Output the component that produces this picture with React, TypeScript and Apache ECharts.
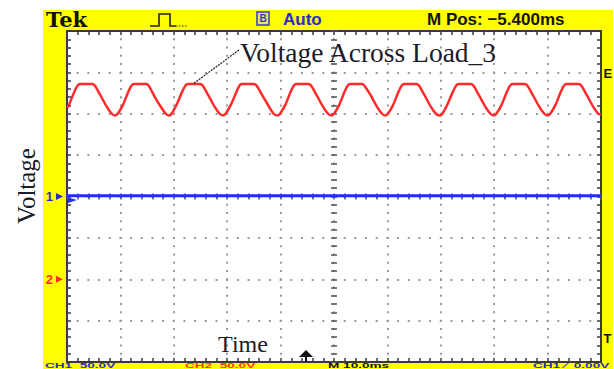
import React, { useEffect, useRef } from "react";
import * as echarts from "echarts";

// ---- Scope settings ----
const X_MIN = 0; // ms
const X_MAX = 100; // ms (10 div x 10.0 ms)
const X_INTERVAL = 10;
const Y_MIN = -200; // V (8 div x 50 V)
const Y_MAX = 200;
const Y_INTERVAL = 50;
const CH2_GROUND_V = -100; // CH2 reference marker sits 2 div below centre

// ---- CH2 (red): Voltage across load 3 ----
const ch2Time = [
  0.0, 0.4, 1.4, 2.1, 2.6, 4.7, 5.2, 6.2, 7.4, 8.4, 9.0,
  9.5, 10.5, 11.5, 12.2, 12.7, 14.8, 15.3, 16.3, 17.5, 18.5, 19.1,
  19.6, 20.6, 21.6, 22.3, 22.8, 24.9, 25.4, 26.4, 27.6, 28.6, 29.2,
  29.7, 30.7, 31.7, 32.4, 32.9, 35.0, 35.5, 36.5, 37.7, 38.7, 39.4,
  39.9, 40.9, 41.9, 42.6, 43.1, 45.2, 45.7, 46.7, 47.9, 48.9, 49.5,
  50.0, 51.0, 52.0, 52.7, 53.2, 55.3, 55.8, 56.8, 58.0, 59.0, 59.6,
  60.1, 61.1, 62.1, 62.8, 63.3, 65.4, 65.9, 66.9, 68.1, 69.1, 69.8,
  70.3, 71.3, 72.3, 73.0, 73.5, 75.6, 76.1, 77.1, 78.3, 79.3, 79.9,
  80.4, 81.4, 82.4, 83.1, 83.6, 85.7, 86.2, 87.2, 88.4, 89.4, 90.0,
  90.5, 91.5, 92.5, 93.2, 93.7, 95.8, 96.3, 97.3, 98.5, 99.5, 100.0,
];
const ch2Volts = [
  207, 211, 227, 235, 236, 236, 234, 223, 209, 200, 198,
  200, 211, 227, 235, 236, 236, 234, 222, 209, 200, 198,
  200, 212, 227, 235, 236, 236, 234, 223, 209, 200, 198,
  200, 211, 226, 235, 236, 236, 234, 223, 210, 200, 198,
  200, 211, 227, 235, 236, 236, 234, 223, 209, 200, 198,
  200, 211, 227, 235, 236, 236, 233, 223, 209, 200, 198,
  200, 211, 227, 235, 236, 236, 234, 223, 209, 200, 198,
  200, 212, 227, 235, 236, 236, 234, 223, 209, 200, 198,
  200, 211, 227, 235, 236, 236, 234, 223, 209, 200, 198,
  200, 211, 227, 235, 236, 236, 234, 223, 209, 200, 199,
];

// ---- CH1 (blue): flat trace ----
const ch1Time = [0, 20, 40, 60, 80, 100];
const ch1Volts = [1, 1, 1, 1, 1, 1];

// ---- Texts ----
const annotationText = "Voltage Across Load_3";
const annotationAt = [23.6, 236]; // time (ms), CH2 volts — where the leader touches
const yTitle = "Voltage";
const xTitle = "Time";
const headerTexts = ["Tek", "Auto", "M Pos: \u22125.400ms"];
const footerTexts = ["CH1  50.0V", "CH2  50.0V", "M 10.0ms", "CH1 \u2044  0.00V"];
const sideTexts = ["E", "T"];

const W = 614;
const H = 369;
const GRID = { left: 67, top: 31, width: 534, height: 331 };
const DOT = "#9a9a9a";
const FRAME = "#3a3a3a";

function edgeAxis(extra: any) {
  return {
    type: "value",
    gridIndex: 0,
    axisLabel: { show: false },
    splitLine: { show: false },
    axisLine: { show: true, onZero: false, lineStyle: { color: FRAME, width: 2 } },
    axisTick: { show: true, inside: true, length: 4, lineStyle: { color: FRAME, width: 1.5 } },
    minorTick: { show: true, splitNumber: 5, length: 4, lineStyle: { color: FRAME, width: 1.5 } },
    ...extra,
  };
}

function centreAxis(extra: any, inside: boolean) {
  return {
    type: "value",
    gridIndex: 0,
    axisLabel: { show: false },
    splitLine: { show: false },
    axisLine: { show: false, onZero: false },
    axisTick: { show: true, inside, length: 3, lineStyle: { color: "#555", width: 1.5 } },
    minorTick: { show: true, splitNumber: 5, length: 3, lineStyle: { color: "#555", width: 1.5 } },
    ...extra,
  };
}

export default function App() {
  const ref = useRef<HTMLDivElement>(null);

  useEffect(() => {
    const chart = echarts.init(ref.current!, null, { renderer: "svg" });
    const xr = { min: X_MIN, max: X_MAX, interval: X_INTERVAL };
    const yr = { min: Y_MIN, max: Y_MAX, interval: Y_INTERVAL };
    const vMinor = GRID.height / 8 / 5;
    const hMinor = GRID.width / 10 / 5;

    chart.setOption({
      animation: false,
      backgroundColor: "#ffffff",
      grid: {
        ...GRID,
        show: true,
        backgroundColor: "#ffffff",
        borderWidth: 0,
        containLabel: false,
      },
      xAxis: [
        edgeAxis({
          ...xr,
          position: "bottom",
          splitLine: {
            show: true,
            lineStyle: { color: DOT, width: 2, type: [2, vMinor - 2], dashOffset: 1 },
          },
        }),
        edgeAxis({ ...xr, position: "top" }),
        centreAxis({ ...xr, position: "bottom", offset: -GRID.height / 2 }, true),
        centreAxis({ ...xr, position: "bottom", offset: -GRID.height / 2 }, false),
      ],
      yAxis: [
        edgeAxis({
          ...yr,
          position: "left",
          splitLine: {
            show: true,
            lineStyle: { color: DOT, width: 2, type: [2, hMinor - 2], dashOffset: 1 },
          },
        }),
        edgeAxis({ ...yr, position: "right" }),
        centreAxis({ ...yr, position: "left", offset: -GRID.width / 2 }, true),
        centreAxis({ ...yr, position: "left", offset: -GRID.width / 2 }, false),
      ],
      series: [
        {
          name: "CH2",
          type: "line",
          xAxisIndex: 0,
          yAxisIndex: 0,
          data: ch2Time.map((t, i) => [t, ch2Volts[i] + CH2_GROUND_V]),
          symbol: "none",
          smooth: 0.25,
          lineStyle: { color: "#ff2b2b", width: 2.5 },
          z: 5,
        },
        {
          name: "CH1",
          type: "line",
          xAxisIndex: 0,
          yAxisIndex: 0,
          data: ch1Time.map((t, i) => [t, ch1Volts[i]]),
          symbol: "none",
          lineStyle: { color: "#1f2dff", width: 3 },
          z: 5,
        },
      ],
    });

    const anchor = chart.convertToPixel({ seriesIndex: 0 }, [
      annotationAt[0],
      annotationAt[1] + CH2_GROUND_V,
    ]) as number[];
    const ch1Y = (chart.convertToPixel({ seriesIndex: 1 }, [0, 0]) as number[])[1];
    const ch2Y = (chart.convertToPixel({ seriesIndex: 0 }, [0, CH2_GROUND_V]) as number[])[1];

    const sans = "Liberation Sans";
    const serif = "Liberation Serif";
    const footer = (text: string, x: number, fill: string) => ({
      type: "text", z: 10, x, y: 369, scaleX: 1.7,
      style: { text, fontFamily: sans, fontWeight: "bold", fontSize: 8, fill, verticalAlign: "bottom" },
    });
    const side = (text: string, y: number) => ({
      type: "text", z: 10, x: 603.5, y,
      style: { text, fontFamily: sans, fontWeight: "bold", fontSize: 13, fill: "#111", verticalAlign: "middle" },
    });

    chart.setOption({
      graphic: [
        { type: "rect", z: -10, shape: { x: 43, y: 10, width: 570, height: 359 }, style: { fill: "#ffff00" } },
        // header
        {
          type: "text", z: 10, x: 46, y: 19,
          style: { text: headerTexts[0], fontFamily: "DejaVu Serif", fontWeight: "bold", fontSize: 21, fill: "#111", verticalAlign: "middle" },
        },
        {
          type: "polyline", z: 10,
          shape: { points: [[150, 26], [159, 26], [159, 14], [170, 14], [170, 26], [176, 26]] },
          style: { stroke: "#222", lineWidth: 1.6, fill: "none" },
        },
        {
          type: "line", z: 10, shape: { x1: 176, y1: 26, x2: 187, y2: 26 },
          style: { stroke: "#333", lineWidth: 1.2, lineDash: [1.5, 1.5] },
        },
        {
          type: "rect", z: 10, shape: { x: 257, y: 12, width: 12, height: 13 },
          style: { stroke: "#3a3ac8", lineWidth: 1.5, fill: "#e8e860" },
        },
        {
          type: "text", z: 11, x: 263, y: 18.5,
          style: { text: "B", fontFamily: sans, fontWeight: "bold", fontSize: 10, fill: "#3a3ac8", align: "center", verticalAlign: "middle" },
        },
        {
          type: "text", z: 10, x: 283, y: 19,
          style: { text: headerTexts[1], fontFamily: sans, fontWeight: "bold", fontSize: 17, fill: "#2a2ad0", verticalAlign: "middle" },
        },
        {
          type: "text", z: 10, x: 427, y: 19,
          style: { text: headerTexts[2], fontFamily: sans, fontWeight: "bold", fontSize: 17, fill: "#141414", verticalAlign: "middle" },
        },
        // footer strip
        footer(footerTexts[0], 45, "#2a2ad0"),
        footer(footerTexts[1], 185, "#ff3a10"),
        footer(footerTexts[2], 328, "#141414"),
        footer(footerTexts[3], 533, "#2a2ad0"),
        // right-side menu letters
        side(sideTexts[0], 73),
        side(sideTexts[1], 338),
        // channel markers
        {
          type: "text", z: 10, x: 53, y: ch1Y,
          style: { text: "1", fontFamily: sans, fontWeight: "bold", fontSize: 13, fill: "#2a2ad0", align: "right", verticalAlign: "middle" },
        },
        {
          type: "polygon", z: 10,
          shape: { points: [[56, ch1Y - 3.5], [63, ch1Y], [56, ch1Y + 3.5]] },
          style: { fill: "#2a2ad0" },
        },
        {
          type: "polygon", z: 10,
          shape: { points: [[68, ch1Y + 1], [77, ch1Y + 3.5], [68, ch1Y + 6.5]] },
          style: { fill: "#1f2dff" },
        },
        {
          type: "text", z: 10, x: 53, y: ch2Y,
          style: { text: "2", fontFamily: sans, fontWeight: "bold", fontSize: 13, fill: "#ff2b2b", align: "right", verticalAlign: "middle" },
        },
        {
          type: "polygon", z: 10,
          shape: { points: [[56, ch2Y - 3.5], [63, ch2Y], [56, ch2Y + 3.5]] },
          style: { fill: "#ff2b2b" },
        },
        // trigger position marker
        {
          type: "polygon", z: 10,
          shape: { points: [[299, 357], [306, 350], [313, 357]] },
          style: { fill: "#111" },
        },
        { type: "rect", z: 10, shape: { x: 305, y: 356, width: 2, height: 6 }, style: { fill: "#111" } },
        // annotation
        {
          type: "text", z: 12, x: 240, y: 52,
          style: { text: annotationText, fontFamily: serif, fontSize: 27.5, fill: "#1b1b2a", verticalAlign: "middle" },
        },
        {
          type: "line", z: 12,
          shape: { x1: 239, y1: 50, x2: anchor[0], y2: anchor[1] },
          style: { stroke: "#222", lineWidth: 1.2, lineDash: [2, 1] },
        },
        {
          type: "text", z: 12, x: 26, y: 186, rotation: Math.PI / 2,
          style: { text: yTitle, fontFamily: serif, fontSize: 25, fill: "#1b1b2a", align: "center", verticalAlign: "middle" },
        },
        {
          type: "text", z: 12, x: 243, y: 344,
          style: { text: xTitle, fontFamily: serif, fontSize: 24, fill: "#1b1b2a", align: "center", verticalAlign: "middle" },
        },
      ],
    });

    return () => chart.dispose();
  }, []);

  return (
    <div
      ref={ref}
      style={{ position: "fixed", left: 0, top: 0, width: W, height: H, background: "#fff" }}
    />
  );
}
